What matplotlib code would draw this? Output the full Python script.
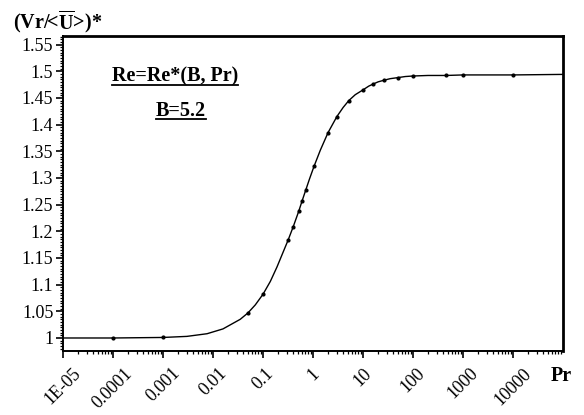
import numpy as np
import matplotlib
matplotlib.use("Agg")
import matplotlib.pyplot as plt
from matplotlib.ticker import FixedLocator, LogLocator, MultipleLocator, FuncFormatter, NullFormatter
from matplotlib.lines import Line2D

plt.rcParams['font.family'] = ['Liberation Serif', 'DejaVu Serif']
plt.rcParams['mathtext.fontset'] = 'custom'
plt.rcParams['mathtext.rm'] = 'Liberation Serif'
plt.rcParams['mathtext.bf'] = 'Liberation Serif:bold'

# Vr/<U> versus Pr for B = 5.2 (curve)
pr_curve = [1e-5, 1e-4, 1e-3, 3e-3, 0.0076, 0.0158, 0.035, 0.05, 0.07, 0.1,
            0.14, 0.19, 0.25, 0.316, 0.4, 0.52, 0.6, 0.72, 0.85, 1.05, 1.4,
            2.0, 3.0, 4.0, 5.2, 7.0, 10, 13, 16, 20, 26, 35, 50, 70, 100,
            200, 460, 1000, 10000, 1e5]
vr_curve = [1.000, 1.000, 1.001, 1.003, 1.008, 1.017, 1.035, 1.047, 1.062, 1.082,
            1.106, 1.133, 1.160, 1.183, 1.208, 1.238, 1.256, 1.278, 1.298, 1.322,
            1.352, 1.385, 1.415, 1.432, 1.445, 1.456, 1.465, 1.472, 1.476, 1.480,
            1.483, 1.486, 1.488, 1.490, 1.491, 1.492, 1.492, 1.493, 1.493, 1.494]

# computed points shown as dots on the curve
pr_pts = [1e-4, 1e-3, 0.05, 0.1, 0.316, 0.4, 0.52, 0.6, 0.72, 1.05, 2.0, 3.0,
          5.2, 10, 16, 26, 50, 100, 460, 1000, 10000]
vr_pts = [1.000, 1.001, 1.047, 1.082, 1.183, 1.208, 1.238, 1.256, 1.278, 1.322,
          1.385, 1.415, 1.445, 1.465, 1.476, 1.483, 1.488, 1.491, 1.492, 1.493, 1.493]

x_major = [1e-5, 1e-4, 1e-3, 1e-2, 1e-1, 1, 10, 100, 1000, 10000]
x_labels = ['1E-05', '0.0001', '0.001', '0.01', '0.1', '1', '10', '100', '1000', '10000']
y_major = np.arange(1.0, 1.5501, 0.05)

fig = plt.figure(figsize=(5.84, 4.15), dpi=100)
ax = fig.add_axes([0.1079, 0.1542, 0.8562, 0.7591])

ax.plot(pr_curve, vr_curve, color='black', lw=1.0)
ax.plot(pr_pts, vr_pts, ls='none', marker='o', ms=2.0, color='black')

ax.set_xscale('log')
ax.set_xlim(1e-5, 1e5)
ax.set_ylim(0.9756, 1.566)

ax.xaxis.set_major_locator(FixedLocator(x_major))
ax.set_xticklabels(x_labels)
ax.xaxis.set_minor_locator(LogLocator(base=10, subs=np.arange(2, 10), numticks=20))
ax.xaxis.set_minor_formatter(NullFormatter())
for lab in ax.get_xticklabels():
    lab.set_rotation(45)
    lab.set_ha('center')
    lab.set_va('top')

ax.yaxis.set_major_locator(FixedLocator(y_major))
ax.yaxis.set_major_formatter(FuncFormatter(lambda v, p: '%g' % round(v, 2)))
ax.yaxis.set_minor_locator(MultipleLocator(0.005))

ax.tick_params(axis='both', which='major', direction='out', length=5, width=1.2,
               labelsize=13, top=False, right=False)
ax.tick_params(axis='both', which='minor', direction='out', length=2.5, width=0.9,
               top=False, right=False)
ax.tick_params(axis='x', which='major', pad=5)
ax.tick_params(axis='y', which='major', pad=2)

for side, w in [('left', 1.4), ('bottom', 1.4), ('top', 2.0), ('right', 2.0)]:
    ax.spines[side].set_linewidth(w)

t1 = ax.text(0.224, 0.872, 'Re=Re*(B, Pr)', transform=ax.transAxes,
             ha='center', va='center', fontsize=14.5, fontweight='bold')
t2 = ax.text(0.236, 0.762, 'B=5.2', transform=ax.transAxes,
             ha='center', va='center', fontsize=14.5, fontweight='bold')

fig.text(13 / 584, 1 - 22 / 415, r'(Vr/<$\overline{\mathbf{U}}$>)*', ha='left', va='center',
         fontsize=14.5, fontweight='bold')
fig.text(561 / 584, 1 - 376 / 415, 'Pr', ha='center', va='center',
         fontsize=14.5, fontweight='bold')

# underline the two annotations
fig.canvas.draw()
renderer = fig.canvas.get_renderer()
for t in (t1, t2):
    bb = t.get_window_extent(renderer)
    yb = bb.y0 + 1.5
    fig.add_artist(Line2D([bb.x0 / fig.bbox.width, bb.x1 / fig.bbox.width],
                          [yb / fig.bbox.height, yb / fig.bbox.height],
                          transform=fig.transFigure, color='black', lw=1.3))

fig.savefig('out.png', dpi=100)
